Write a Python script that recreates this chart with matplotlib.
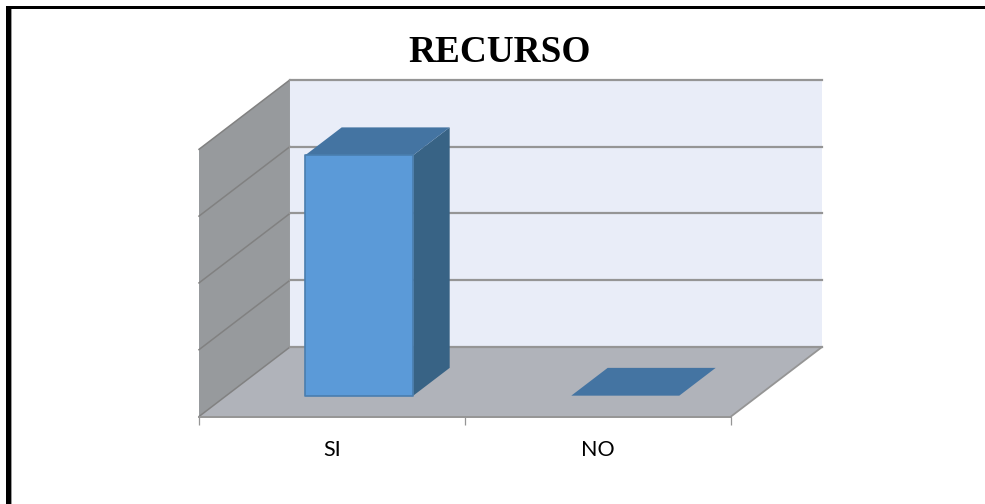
import matplotlib
matplotlib.use('Agg')
import matplotlib.pyplot as plt
from matplotlib.patches import Polygon, Rectangle

categories = ['SI', 'NO']
values = [18, 0]
value_ticks = [0, 5, 10, 15, 20]
chart_title = 'RECURSO'

W, H = 985, 504
# oblique depth of the chart box, in data units
DEPTH_X = 0.342
DEPTH_Y = 5.2
BAR_W = 0.406
BAR_D0 = 0.30
BAR_D1 = 0.70

WALL = '#979a9d'
BACK = '#e9edf8'
FLOOR = '#b0b3ba'
GRID = '#959595'
WALL_GRID = '#818181'
BAR_FRONT = '#5b9ad8'
BAR_TOP = '#4474a2'
BAR_SIDE = '#386385'
BAR_EDGE = '#4a7eae'


def proj(x, y, d):
    # d is the depth fraction, 0 at the front edge and 1 at the back wall
    return (x + d * DEPTH_X, y + d * DEPTH_Y)


fig = plt.figure(figsize=(W / 100, H / 100), dpi=100, facecolor='white')
ax = fig.add_axes([199 / W, (H - 416.5) / H, 532 / W, 267.2 / H])
ax.set_xlim(0, len(categories))
ax.set_ylim(value_ticks[0], value_ticks[-1])
ax.patch.set_visible(False)
for s in ['top', 'right', 'left']:
    ax.spines[s].set_visible(False)
ax.spines['bottom'].set_color(GRID)
ax.spines['bottom'].set_linewidth(1.4)
ax.spines['bottom'].set_zorder(4)

ax.set_yticks([])
ax.set_xticks([0, 1, 2])
ax.set_xticklabels([])
ax.set_xticks([0.5, 1.5], minor=True)
ax.set_xticklabels(categories, minor=True, fontsize=15.5, family='Lato', color='black')
ax.tick_params(axis='x', which='major', length=6, width=0.9, color=GRID)
ax.tick_params(axis='x', which='minor', length=0, pad=17)


def poly(pts, fc, ec='none', lw=0, z=2):
    ax.add_patch(Polygon(pts, closed=True, facecolor=fc, edgecolor=ec, linewidth=lw,
                         zorder=z, clip_on=False, joinstyle='round'))


n = len(categories)
vmax = value_ticks[-1]

# side wall, back wall and floor
poly([proj(0, 0, 0), proj(0, 0, 1), proj(0, vmax, 1), proj(0, vmax, 0)], WALL, z=1)
poly([proj(0, 0, 1), proj(n, 0, 1), proj(n, vmax, 1), proj(0, vmax, 1)], BACK, z=1)
poly([proj(0, 0, 0), proj(n, 0, 0), proj(n, 0, 1), proj(0, 0, 1)], FLOOR, z=1.5)

# gridlines run along the side wall and across the back wall
for v in value_ticks:
    p0, p1, p2 = proj(0, v, 0), proj(0, v, 1), proj(n, v, 1)
    ax.plot([p0[0], p1[0]], [p0[1], p1[1]], color=WALL_GRID, lw=1.1, zorder=1.6, clip_on=False)
    ax.plot([p1[0], p2[0]], [p1[1], p2[1]], color=GRID, lw=1.6, zorder=1.6, clip_on=False)

# floor edge on the right
a, b = proj(n, 0, 0), proj(n, 0, 1)
ax.plot([a[0], b[0]], [a[1], b[1]], color=GRID, lw=1.3, zorder=1.7, clip_on=False)

# 3d columns
for i, v in enumerate(values):
    x0 = i + 0.5 - BAR_W / 2
    x1 = i + 0.5 + BAR_W / 2
    poly([proj(x1, 0, BAR_D0), proj(x1, 0, BAR_D1), proj(x1, v, BAR_D1), proj(x1, v, BAR_D0)],
         BAR_SIDE, z=3)
    poly([proj(x0, v, BAR_D0), proj(x1, v, BAR_D0), proj(x1, v, BAR_D1), proj(x0, v, BAR_D1)],
         BAR_TOP, z=3)
    if v > 0:
        poly([proj(x0, 0, BAR_D0), proj(x1, 0, BAR_D0), proj(x1, v, BAR_D0), proj(x0, v, BAR_D0)],
             BAR_FRONT, ec=BAR_EDGE, lw=1.2, z=3.1)

fig.text(500 / W, 1 - 52 / H, chart_title, fontsize=26.8, fontweight='bold',
         family='Liberation Serif', ha='center', va='center', color='black')

# heavy frame along the top and left of the page
fig.add_artist(Rectangle((6 / W, 0), 5 / W, 1 - 6 / H, transform=fig.transFigure,
                         facecolor='black', edgecolor='none'))
fig.add_artist(Rectangle((11 / W, 0), 1 / W, 1 - 9 / H, transform=fig.transFigure,
                         facecolor='#9a9a9a', edgecolor='none'))
fig.add_artist(Rectangle((6 / W, 1 - 9 / H), 1 - 6 / W, 3 / H, transform=fig.transFigure,
                         facecolor='black', edgecolor='none'))

fig.savefig('out.png', dpi=100, facecolor='white')
